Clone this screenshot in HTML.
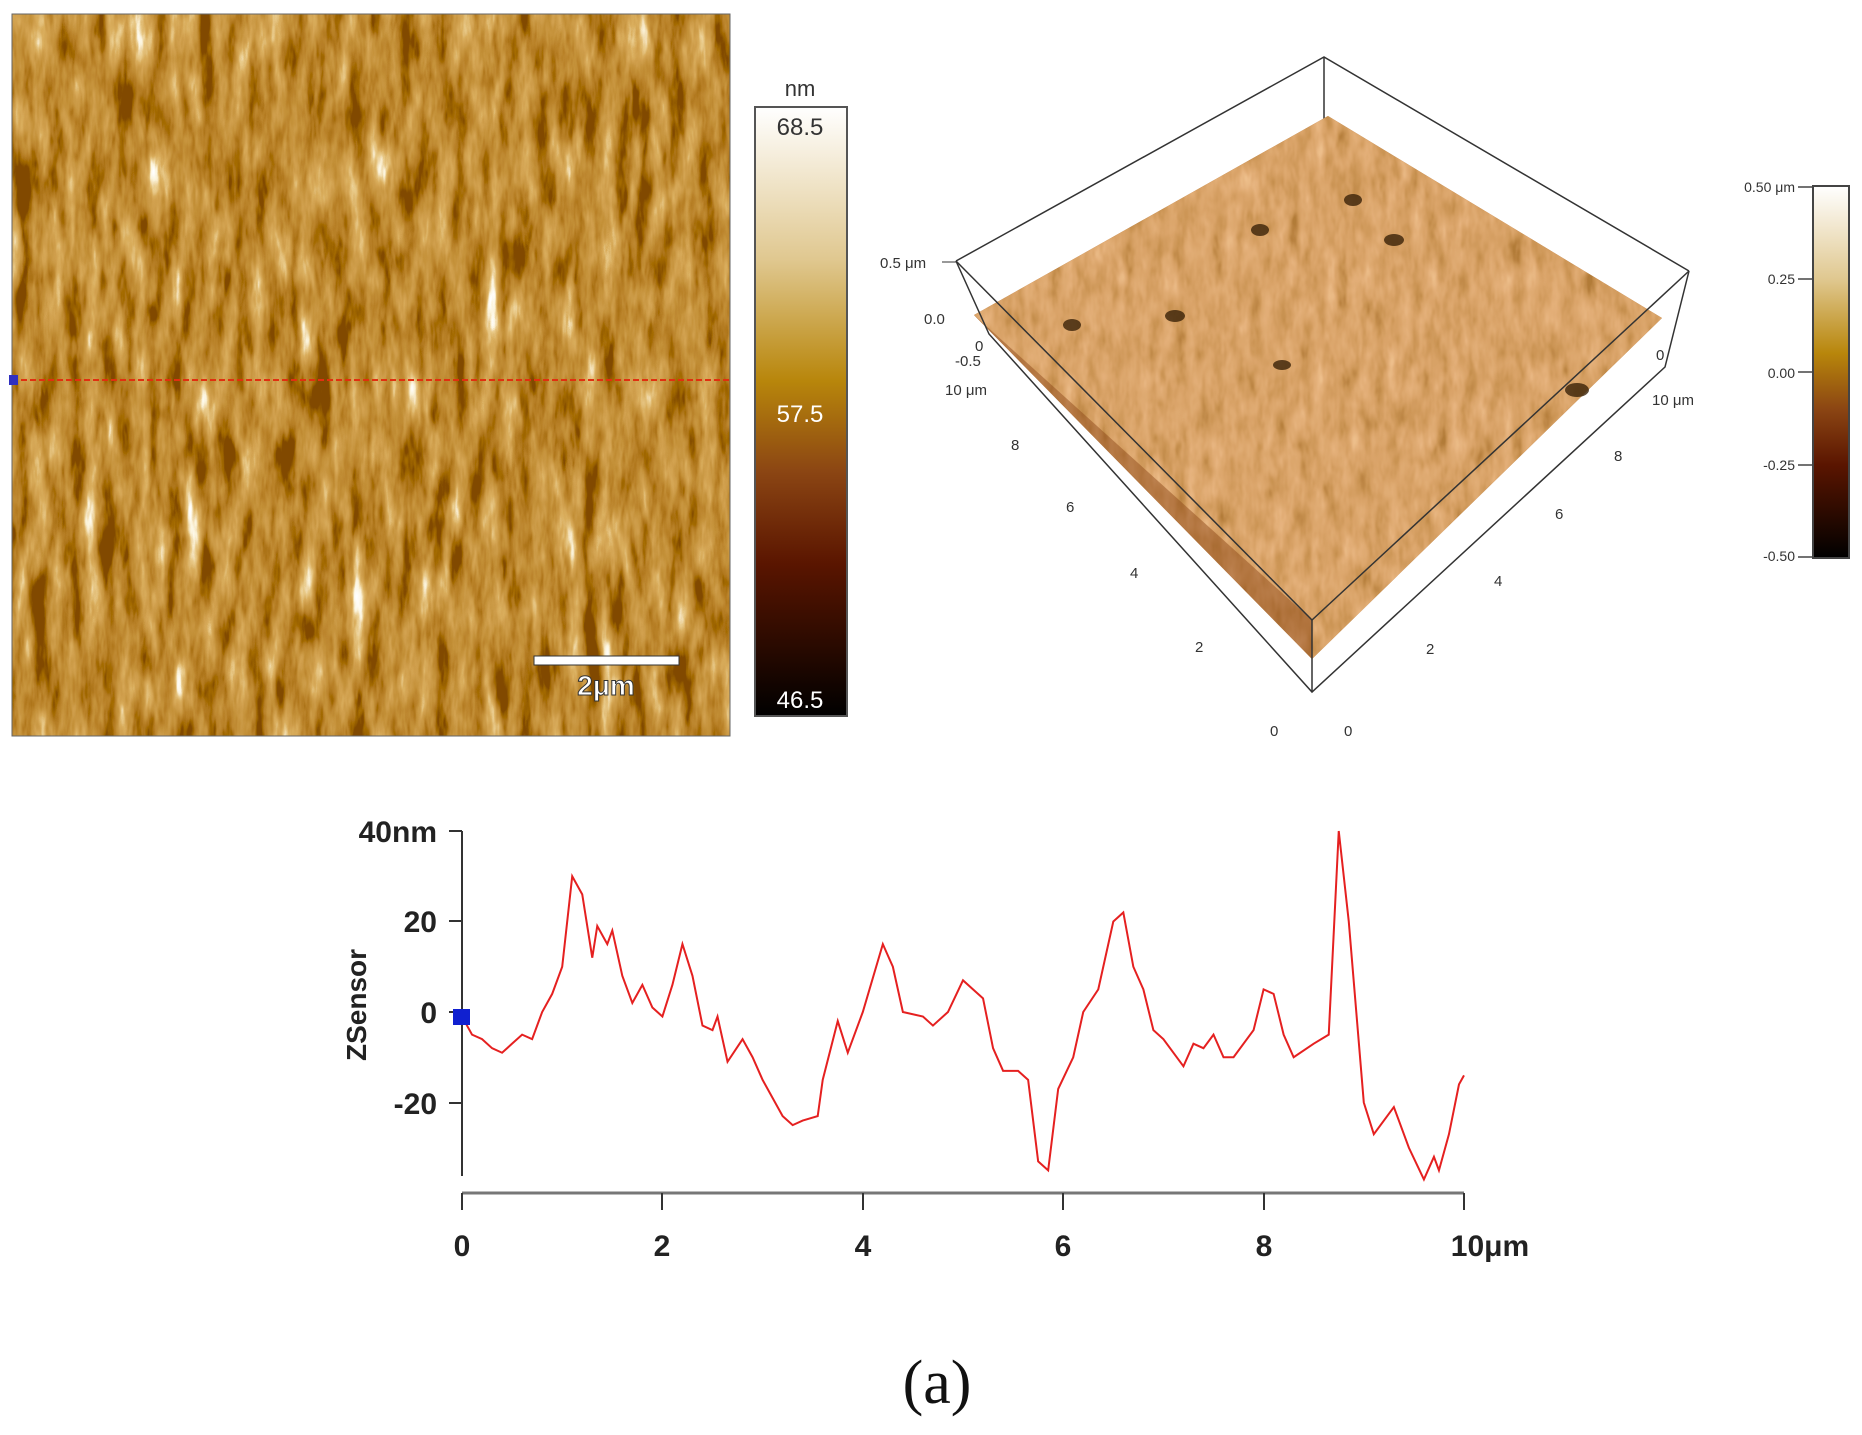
<!DOCTYPE html>
<html><head><meta charset="utf-8"><style>
html,body{margin:0;padding:0;background:#fff;}
body{width:1862px;height:1435px;position:relative;overflow:hidden;font-family:"Liberation Sans",sans-serif;}
</style></head><body>
<svg width="1862" height="1435" viewBox="0 0 1862 1435" xmlns="http://www.w3.org/2000/svg" style="position:absolute;left:0;top:0">
<defs>
<filter id="afm" x="0" y="0" width="100%" height="100%">
  <feTurbulence type="fractalNoise" baseFrequency="0.06 0.014" numOctaves="4" seed="7" result="n"/>
  <feColorMatrix in="n" type="matrix" values="0.33 0.33 0.33 0 0  0.33 0.33 0.33 0 0  0.33 0.33 0.33 0 0  0 0 0 0 1" result="g"/>
  <feComponentTransfer in="g" result="c">
    <feFuncR type="linear" slope="2.6" intercept="-0.95"/>
    <feFuncG type="linear" slope="2.6" intercept="-0.95"/>
    <feFuncB type="linear" slope="2.6" intercept="-0.95"/>
  </feComponentTransfer>
  <feComponentTransfer in="c">
    <feFuncR type="table" tableValues="0.22 0.36 0.47 0.55 0.62 0.7 0.82 0.97 1"/>
    <feFuncG type="table" tableValues="0.07 0.14 0.21 0.28 0.34 0.42 0.6 0.9 1"/>
    <feFuncB type="table" tableValues="0 0 0.02 0.04 0.07 0.11 0.26 0.7 1"/>
  </feComponentTransfer>
</filter>
<filter id="surf" x="0" y="0" width="100%" height="100%">
  <feTurbulence type="fractalNoise" baseFrequency="0.08 0.03" numOctaves="3" seed="3" result="n"/>
  <feColorMatrix in="n" type="matrix" values="0.33 0.33 0.33 0 0  0.33 0.33 0.33 0 0  0.33 0.33 0.33 0 0  0 0 0 0 1" result="g"/>
  <feComponentTransfer in="g" result="c">
    <feFuncR type="linear" slope="2" intercept="-0.5"/>
    <feFuncG type="linear" slope="2" intercept="-0.5"/>
    <feFuncB type="linear" slope="2" intercept="-0.5"/>
  </feComponentTransfer>
  <feComponentTransfer in="c">
    <feFuncR type="table" tableValues="0.45 0.6 0.7 0.77 0.85"/>
    <feFuncG type="table" tableValues="0.2 0.3 0.37 0.43 0.52"/>
    <feFuncB type="table" tableValues="0.04 0.09 0.14 0.19 0.26"/>
  </feComponentTransfer>
</filter>
<linearGradient id="cb1" x1="0" y1="0" x2="0" y2="1">
  <stop offset="0" stop-color="#ffffff"/><stop offset="0.25" stop-color="#e0c890"/>
  <stop offset="0.45" stop-color="#b8860b"/><stop offset="0.6" stop-color="#8b4513"/>
  <stop offset="0.75" stop-color="#5a1500"/><stop offset="1" stop-color="#000000"/>
</linearGradient>
<clipPath id="sclip"><polygon points="1328,116 1662,318 1312,659 974,315"/></clipPath>
</defs>

<rect x="12" y="14" width="718" height="722" fill="#9a5a18"/>
<rect x="12" y="14" width="718" height="722" filter="url(#afm)"/>
<rect x="12" y="14" width="718" height="722" fill="none" stroke="#666" stroke-width="1"/>
<line x1="12" y1="380" x2="730" y2="380" stroke="#e03010" stroke-width="2" stroke-dasharray="6,3"/>
<rect x="9" y="375" width="9" height="10" fill="#3030c0"/>
<rect x="534" y="656" width="145" height="9" fill="#fff" stroke="#333" stroke-width="1"/>
<text x="606" y="695" font-size="28" font-weight="bold" fill="#fff" stroke="#333" stroke-width="1" text-anchor="middle">2μm</text>

<text x="800" y="96" font-size="22" fill="#333" text-anchor="middle">nm</text>
<rect x="755" y="107" width="92" height="609" fill="url(#cb1)" stroke="#555" stroke-width="2"/>
<text x="800" y="135" font-size="24" fill="#333" text-anchor="middle">68.5</text>
<text x="800" y="422" font-size="24" fill="#fff" text-anchor="middle">57.5</text>
<text x="800" y="708" font-size="24" fill="#fff" text-anchor="middle">46.5</text>

<g stroke="#333" stroke-width="1.5" fill="none">
<polyline points="956,261 1324,57 1689,271"/>
<line x1="1324" y1="57" x2="1324" y2="120"/>
</g>
<polygon points="1328,116 1662,318 1312,659 974,315" fill="#a8642a"/>
<rect x="974" y="116" width="690" height="545" filter="url(#surf)" clip-path="url(#sclip)"/>
<polygon points="974,315 1312,620 1312,659" fill="#904c1c" opacity="0.5"/>
<g fill="#3a2208" opacity="0.8">
<ellipse cx="1175" cy="316" rx="10" ry="6"/><ellipse cx="1260" cy="230" rx="9" ry="6"/>
<ellipse cx="1072" cy="325" rx="9" ry="6"/><ellipse cx="1394" cy="240" rx="10" ry="6"/>
<ellipse cx="1282" cy="365" rx="9" ry="5"/><ellipse cx="1577" cy="390" rx="12" ry="7"/>
<ellipse cx="1353" cy="200" rx="9" ry="6"/>
</g>
<g stroke="#333" stroke-width="1.5" fill="none">
<polyline points="956,261 989,334 1312,692 1665,367 1689,271"/>
<line x1="1312" y1="692" x2="1312" y2="620"/>
<line x1="956" y1="261" x2="1312" y2="620"/>
<line x1="1689" y1="271" x2="1312" y2="620"/>
</g>
<g font-size="15" fill="#333">
<text x="880" y="268">0.5 μm</text><line x1="942" y1="262" x2="956" y2="262" stroke="#333"/>
<text x="924" y="324">0.0</text>
<text x="975" y="351">0</text><text x="955" y="366">-0.5</text>
<text x="945" y="395">10 μm</text>
<text x="1011" y="450">8</text><text x="1066" y="512">6</text>
<text x="1130" y="578">4</text><text x="1195" y="652">2</text>
<text x="1270" y="736">0</text><text x="1344" y="736">0</text>
<text x="1426" y="654">2</text><text x="1494" y="586">4</text>
<text x="1555" y="519">6</text><text x="1614" y="461">8</text>
<text x="1652" y="405">10 μm</text><text x="1656" y="360">0</text>
</g>

<rect x="1813" y="186" width="36" height="372" fill="url(#cb1)" stroke="#444" stroke-width="2"/>
<g font-size="14" fill="#333" text-anchor="end">
<text x="1795" y="192">0.50 μm</text><text x="1795" y="284">0.25</text>
<text x="1795" y="378">0.00</text><text x="1795" y="470">-0.25</text><text x="1795" y="561">-0.50</text>
</g>
<g stroke="#444" stroke-width="1.5">
<line x1="1798" y1="187" x2="1813" y2="187"/><line x1="1798" y1="279" x2="1813" y2="279"/>
<line x1="1798" y1="372" x2="1813" y2="372"/><line x1="1798" y1="465" x2="1813" y2="465"/>
<line x1="1798" y1="557" x2="1813" y2="557"/>
</g>

<g stroke="#333" stroke-width="2">
<line x1="462" y1="831" x2="462" y2="1176"/>
<line x1="449" y1="831" x2="462" y2="831"/><line x1="449" y1="921" x2="462" y2="921"/>
<line x1="449" y1="1012" x2="462" y2="1012"/><line x1="449" y1="1103" x2="462" y2="1103"/>
<line x1="462" y1="1193" x2="1464" y2="1193" stroke="#777" stroke-width="3"/>
<line x1="462" y1="1193" x2="462" y2="1210"/><line x1="662" y1="1193" x2="662" y2="1210"/>
<line x1="863" y1="1193" x2="863" y2="1210"/><line x1="1063" y1="1193" x2="1063" y2="1210"/>
<line x1="1264" y1="1193" x2="1264" y2="1210"/><line x1="1464" y1="1193" x2="1464" y2="1210"/>
</g>
<g font-size="30" font-weight="bold" fill="#222" text-anchor="end">
<text x="437" y="842">40nm</text><text x="437" y="932">20</text>
<text x="437" y="1023">0</text><text x="437" y="1114">-20</text>
</g>
<g font-size="30" font-weight="bold" fill="#222" text-anchor="middle">
<text x="462" y="1256">0</text><text x="662" y="1256">2</text><text x="863" y="1256">4</text>
<text x="1063" y="1256">6</text><text x="1264" y="1256">8</text><text x="1490" y="1256">10μm</text>
</g>
<text transform="translate(366,1005) rotate(-90)" font-size="28" font-weight="bold" fill="#222" text-anchor="middle">ZSensor</text>
<g transform="translate(462,1012) scale(100.2,-4.525)">
<polyline fill="none" stroke="#e52020" stroke-width="2" vector-effect="non-scaling-stroke" points="0,-1 0.1,-5 0.2,-6 0.3,-8 0.4,-9 0.5,-7 0.6,-5 0.7,-6 0.8,0 0.9,4 1.0,10 1.1,30 1.2,26 1.3,12 1.35,19 1.45,15 1.5,18 1.6,8 1.7,2 1.8,6 1.9,1 2.0,-1 2.1,6 2.2,15 2.3,8 2.4,-3 2.5,-4 2.55,-1 2.65,-11 2.8,-6 2.9,-10 3.0,-15 3.2,-23 3.3,-25 3.4,-24 3.55,-23 3.6,-15 3.75,-2 3.85,-9 4.0,0 4.2,15 4.3,10 4.4,0 4.6,-1 4.7,-3 4.85,0 5.0,7 5.1,5 5.2,3 5.3,-8 5.4,-13 5.55,-13 5.65,-15 5.75,-33 5.85,-35 5.95,-17 6.1,-10 6.2,0 6.35,5 6.5,20 6.6,22 6.7,10 6.8,5 6.9,-4 7.0,-6 7.2,-12 7.3,-7 7.4,-8 7.5,-5 7.6,-10 7.7,-10 7.9,-4 8.0,5 8.1,4 8.2,-5 8.3,-10 8.5,-7 8.65,-5 8.75,40 8.85,20 9.0,-20 9.1,-27 9.3,-21 9.45,-30 9.6,-37 9.7,-32 9.75,-35 9.85,-27 9.95,-16 10.0,-14"/>
</g>
<rect x="453" y="1009" width="17" height="16" fill="#1020d0"/>

<text x="937" y="1403" font-size="62" font-family="Liberation Serif, serif" fill="#111" text-anchor="middle">(a)</text>
</svg>
</body></html>
